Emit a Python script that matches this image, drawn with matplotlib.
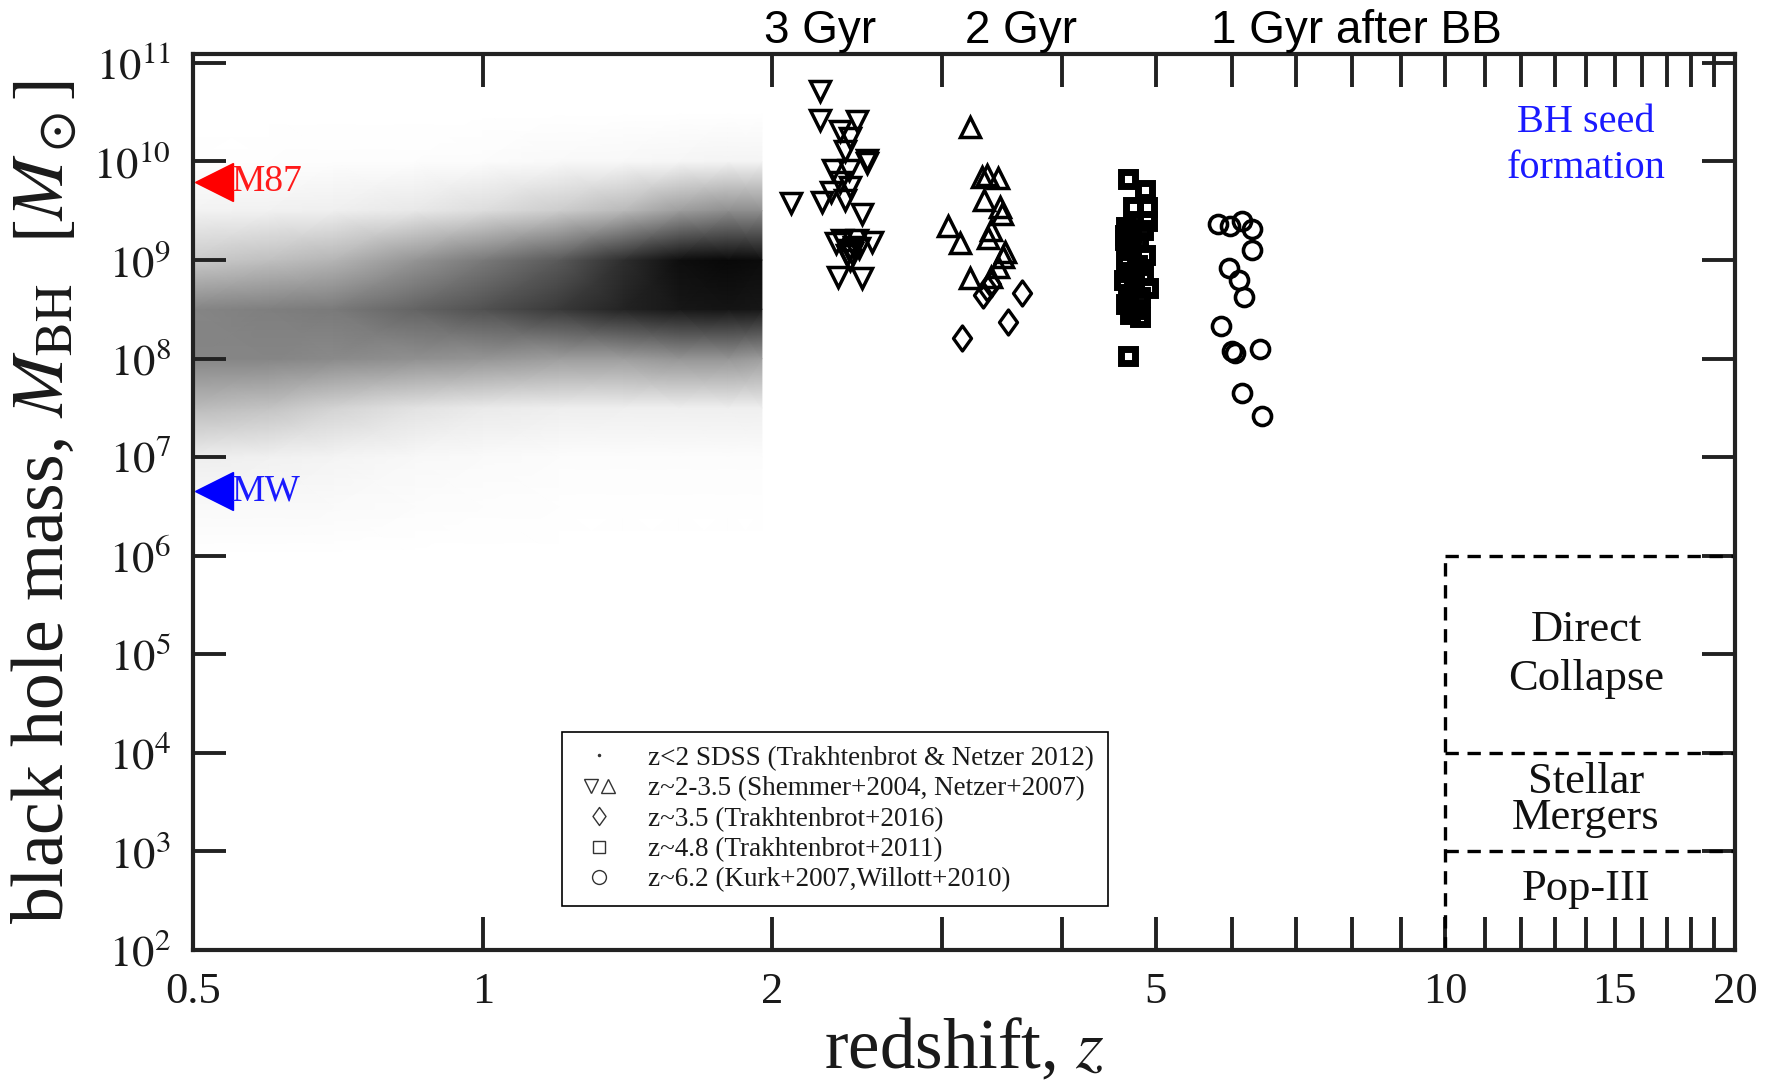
import matplotlib
matplotlib.use("Agg")
import matplotlib.pyplot as plt
import numpy as np
from matplotlib.lines import Line2D
from matplotlib.path import Path
from matplotlib.legend_handler import HandlerTuple

plt.rcParams['font.family'] = ['Liberation Serif', 'DejaVu Serif']
plt.rcParams['mathtext.fontset'] = 'stix'

# ---- data ----
# SDSS cloud (z<2): darkness of the point cloud on a coarse grid
sdss_z = [0.5, 0.6, 0.7, 0.85, 1.0, 1.2, 1.4, 1.6, 1.8, 1.95]
sdss_logm = [6.0, 6.5, 7.0, 7.5, 8.0, 8.5, 9.0, 9.5, 10.0, 10.5]
sdss_dark = [
    [0.00, 0.00, 0.00, 0.00, 0.00, 0.00, 0.00, 0.00, 0.00, 0.00],  # 6.0
    [0.05, 0.05, 0.04, 0.03, 0.02, 0.01, 0.01, 0.01, 0.01, 0.01],  # 6.5
    [0.14, 0.12, 0.09, 0.06, 0.04, 0.03, 0.03, 0.03, 0.03, 0.03],  # 7.0
    [0.38, 0.35, 0.28, 0.20, 0.16, 0.14, 0.13, 0.13, 0.13, 0.13],  # 7.5
    [0.56, 0.56, 0.54, 0.52, 0.50, 0.48, 0.48, 0.50, 0.50, 0.48],  # 8.0
    [0.56, 0.58, 0.60, 0.68, 0.75, 0.82, 0.88, 0.92, 0.93, 0.92],  # 8.5
    [0.32, 0.36, 0.40, 0.50, 0.60, 0.72, 0.85, 0.95, 0.97, 0.96],  # 9.0
    [0.10, 0.12, 0.13, 0.17, 0.23, 0.31, 0.39, 0.48, 0.53, 0.53],  # 9.5
    [0.01, 0.01, 0.02, 0.02, 0.03, 0.05, 0.06, 0.08, 0.09, 0.09],  # 10.0
    [0.00, 0.00, 0.00, 0.00, 0.00, 0.00, 0.00, 0.00, 0.00, 0.00],  # 10.5
]

# Shemmer+2004 (down triangles)
shem_z = [2.24, 2.24, 2.45, 2.35, 2.41, 2.38, 2.51, 2.51, 2.31, 2.40, 2.35, 2.41,
          2.30, 2.25, 2.38, 2.09, 2.48, 2.36, 2.45, 2.54, 2.40, 2.42, 2.34, 2.48,
          2.41, 2.43, 2.39, 2.33, 2.46]
shem_logm = [10.71, 10.42, 10.41, 10.31, 10.24, 10.11, 10.01, 9.98, 9.91, 9.91, 9.79, 9.74,
             9.69, 9.59, 9.61, 9.58, 9.47, 9.20, 9.20, 9.18, 9.10, 9.07, 8.83, 8.82,
             9.00, 9.13, 9.05, 9.17, 9.12]

# Netzer+2007 (up triangles)
netz_z = [3.21, 3.30, 3.34, 3.43, 3.32, 3.45, 3.46, 3.04, 3.13, 3.37, 3.35, 3.49,
          3.47, 3.43, 3.21, 3.37]
netz_logm = [10.35, 9.84, 9.86, 9.83, 9.61, 9.54, 9.47, 9.35, 9.17, 9.30, 9.22, 9.08,
             9.03, 8.93, 8.82, 8.83]

# Trakhtenbrot+2016 (diamonds)
diam_z = [3.34, 3.31, 3.63, 3.51, 3.15, 3.37]
diam_logm = [8.72, 8.64, 8.67, 8.37, 8.21, 8.76]

# Trakhtenbrot+2011 (squares)
sq_z = [4.68, 4.88, 4.74, 4.90, 4.90, 4.65, 4.91, 4.68,
        4.65, 4.80, 4.72, 4.88, 4.66, 4.78, 4.70, 4.85, 4.64, 4.75, 4.68, 4.82,
        4.66, 4.76, 4.70, 4.82, 4.72, 4.85, 4.66]
sq_logm = [9.82, 9.71, 9.54, 9.54, 9.40, 9.25, 8.72, 8.03,
           9.20, 9.18, 9.10, 9.05, 9.00, 8.95, 8.88, 8.85, 8.80, 8.75, 8.65, 8.62,
           8.55, 8.50, 8.45, 8.42, 9.28, 9.30, 9.33]

# Kurk+2007, Willott+2010 (circles)
circ_z = [5.81, 5.98, 6.15, 6.30, 6.30, 5.96, 6.11, 6.18, 5.85, 6.01, 6.05, 6.42, 6.15, 6.45]
circ_logm = [9.37, 9.35, 9.40, 9.31, 9.10, 8.92, 8.80, 8.62, 8.33, 8.08, 8.06, 8.10, 7.65, 7.42]

m87_mass = 6.2e9
mw_mass = 4.5e6
seed_z = 10
seed_masses = [1e3, 1e4, 1e6]

x_ticks = [0.5, 1, 2, 3, 4, 5, 6, 7, 8, 9, 10, 11, 12, 13, 14, 15, 16, 17, 18, 19, 20]
x_labels = {0.5: '0.5', 1: '1', 2: '2', 5: '5', 10: '10', 15: '15', 20: '20'}
y_exps = [2, 3, 4, 5, 6, 7, 8, 9, 10, 11]

legend_labels = ['z<2 SDSS (Trakhtenbrot & Netzer 2012)',
                 'z~2-3.5 (Shemmer+2004, Netzer+2007)',
                 'z~3.5 (Trakhtenbrot+2016)',
                 'z~4.8 (Trakhtenbrot+2011)',
                 'z~6.2 (Kurk+2007,Willott+2010)']

# ---- figure ----
W, H = 1771, 1087
fig = plt.figure(figsize=(W / 100, H / 100), dpi=100)
L, R, T, B = 193, 1735, 54, 950
ax = fig.add_axes([L / W, 1 - B / H, (R - L) / W, (B - T) / H])
ax.set_xscale('log')
ax.set_yscale('log')

ink = '#222222'

# SDSS cloud
Zg, Mg = np.meshgrid(sdss_z, 10 ** np.array(sdss_logm))
ax.pcolormesh(Zg, Mg, np.array(sdss_dark), shading='gouraud', cmap='Greys',
              vmin=0, vmax=1, zorder=1, rasterized=True)

diamond = Path([(0, 1), (0.72, 0), (0, -1), (-0.72, 0), (0, 1)],
               [Path.MOVETO, Path.LINETO, Path.LINETO, Path.LINETO, Path.CLOSEPOLY])

kw = dict(ls='none', mfc='none', mec='black', zorder=3)
ax.plot(shem_z, 10 ** np.array(shem_logm), marker='v', ms=15, mew=2.5, **kw)
ax.plot(netz_z, 10 ** np.array(netz_logm), marker='^', ms=15, mew=2.5, **kw)
ax.plot(diam_z, 10 ** np.array(diam_logm), marker=diamond, ms=18, mew=2.4, **kw)
ax.plot(sq_z, 10 ** np.array(sq_logm), marker='s', ms=10, mew=5, **kw)
ax.plot(circ_z, 10 ** np.array(circ_logm), marker='o', ms=13, mew=2.6, **kw)

# M87 / MW markers
ax.plot([0.526], [m87_mass], marker='<', ms=27, color='#ff0000', ls='none', zorder=4, clip_on=False)
ax.plot([0.526], [mw_mass], marker='<', ms=27, color='#0000ff', ls='none', zorder=4, clip_on=False)
ax.text(0.549, m87_mass, 'M87', color='#ff1a1a', fontsize=27, ha='left', va='center', zorder=4)
ax.text(0.549, mw_mass, 'MW', color='#1a1aff', fontsize=27, ha='left', va='center', zorder=4)

# seed formation boxes
dash = (0, (4, 2.6))
ax.plot([seed_z, seed_z], [1e2, seed_masses[-1]], color='black', lw=2.4, ls=dash, zorder=2)
for m in seed_masses:
    ax.plot([seed_z, 20], [m, m], color='black', lw=2.4, ls=dash, zorder=2)

ax.text(14.0, 10 ** 10.16, 'BH seed\nformation', color='#1a1aff', fontsize=29,
        ha='center', va='center', linespacing=1.3)
ax.text(14.0, 1e5, 'Direct\nCollapse', color='#111111', fontsize=32,
        ha='center', va='center', linespacing=1.3)
ax.text(14.0, 10 ** 3.52, 'Stellar\nMergers', color='#111111', fontsize=32,
        ha='center', va='center', linespacing=0.88)
ax.text(14.0, 10 ** 2.62, 'Pop-III', color='#111111', fontsize=32,
        ha='center', va='center')

# axes styling
ax.set_xlim(0.5, 20)
ax.set_ylim(1e2, 10 ** 11.09)
ax.minorticks_off()
ax.set_xticks(x_ticks)
ax.set_xticklabels([x_labels.get(t, '') for t in x_ticks])
ax.set_yticks([10.0 ** e for e in y_exps])
ax.set_yticklabels([r'$10^{%d}$' % e for e in y_exps])
ax.tick_params(which='both', direction='in', length=24, width=2.8, color=ink,
               top=True, right=True, labelsize=32, labelcolor='#1a1a1a')
ax.tick_params(axis='x', pad=16)
ax.tick_params(axis='y', pad=16)
for s in ax.spines.values():
    s.set_linewidth(3)
    s.set_color(ink)

ax.set_xlabel(r'redshift, $z$', fontsize=51, color='#1a1a1a')
ax.xaxis.set_label_coords(0.5, -0.075)
ax.set_ylabel(r'black hole mass, $M_{\rm BH}$  $[M_\odot]$', fontsize=53, color='#1a1a1a')
ax.yaxis.set_label_coords(-0.074, 0.5)

# top annotations
sans = ['Liberation Sans', 'DejaVu Sans']
fig.text(820 / W, 1 - 43 / H, '3 Gyr', family=sans, fontsize=33, ha='center', va='baseline')
fig.text(1021 / W, 1 - 43 / H, '2 Gyr', family=sans, fontsize=33, ha='center', va='baseline')
fig.text(1356 / W, 1 - 43 / H, '1 Gyr after BB', family=sans, fontsize=33, ha='center', va='baseline')

# legend
lk = dict(ls='none', mfc='none', mec='#333333', mew=1.0)
h_dot = Line2D([], [], ls='none', marker='.', ms=3, color='#333333')
h_down = Line2D([], [], marker='v', ms=10, **lk)
h_up = Line2D([], [], marker='^', ms=10, **lk)
h_diam = Line2D([], [], marker=diamond, ms=13, **lk)
h_sq = Line2D([], [], marker='s', ms=9, **lk)
h_circ = Line2D([], [], marker='o', ms=10, **lk)
leg = ax.legend([h_dot, (h_down, h_up), h_diam, h_sq, h_circ], legend_labels,
                handler_map={tuple: HandlerTuple(ndivide=None, pad=-0.5)},
                loc='lower left', bbox_to_anchor=(0.239, 0.049), borderaxespad=0,
                fontsize=19.5, labelspacing=0.2, handlelength=1.8, handletextpad=0.9,
                borderpad=0.5, fancybox=False, framealpha=1, edgecolor='black')
leg.get_frame().set_linewidth(1.2)
for t in leg.get_texts():
    t.set_color('#1a1a1a')

fig.savefig('out.png', dpi=100)
